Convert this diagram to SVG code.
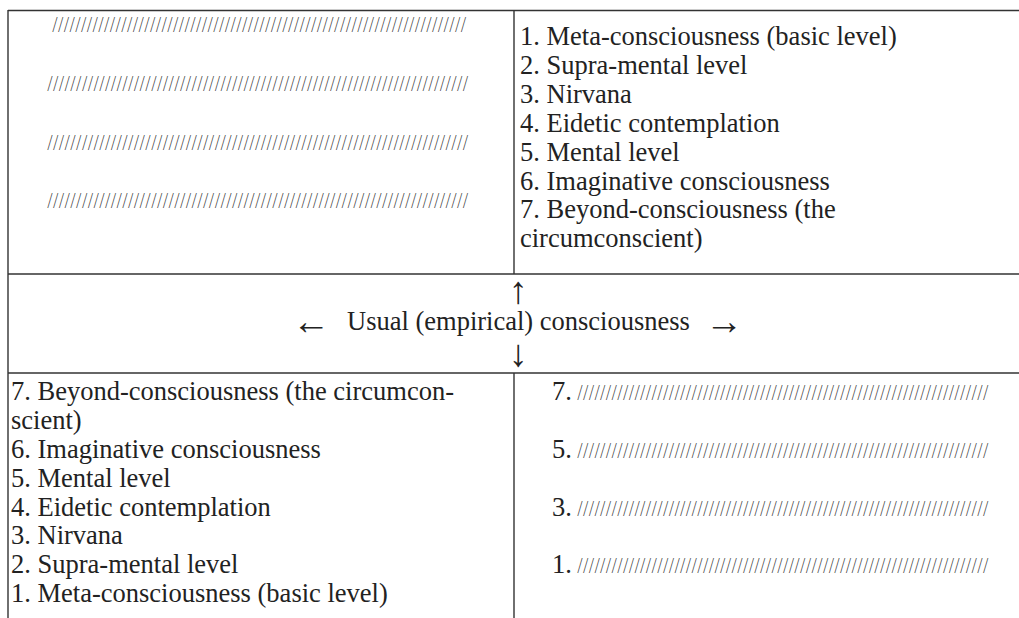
<svg xmlns="http://www.w3.org/2000/svg" width="1019" height="618" viewBox="0 0 1019 618">
<style>
.t{font-family:"Liberation Serif","Times New Roman",serif;font-size:26.5px;fill:#222}
.s{font-family:"Liberation Serif","Times New Roman",serif;font-style:italic;font-size:23px;fill:#333}
.a{font-family:"Liberation Serif","DejaVu Serif",serif;font-size:38px;fill:#222}
.ln{stroke:#333;stroke-width:1.4;fill:none}
</style>
<rect width="1019" height="618" fill="#fff"/>
<g id="grid">
<line class="ln" x1="8" y1="10.5" x2="1019" y2="10.5"/>
<line class="ln" x1="8" y1="274" x2="1019" y2="274"/>
<line class="ln" x1="8" y1="373" x2="1019" y2="373"/>
<line class="ln" x1="8" y1="10" x2="8" y2="618"/>
<line class="ln" x1="514" y1="10" x2="514" y2="274"/>
<line class="ln" x1="514" y1="373" x2="514" y2="618"/>
</g>
<g id="top-left">
<text class="s" transform="translate(53,32) scale(0.55,1)" x="0" y="0" textLength="749" lengthAdjust="spacing">////////////////////////////////////////////////////////////////////////</text>
<text class="s" transform="translate(48,91) scale(0.55,1)" x="0" y="0" textLength="762" lengthAdjust="spacing">/////////////////////////////////////////////////////////////////////////</text>
<text class="s" transform="translate(48,150) scale(0.55,1)" x="0" y="0" textLength="762" lengthAdjust="spacing">/////////////////////////////////////////////////////////////////////////</text>
<text class="s" transform="translate(48,208) scale(0.55,1)" x="0" y="0" textLength="762" lengthAdjust="spacing">/////////////////////////////////////////////////////////////////////////</text>
</g>
<g id="top-right">
<text class="t" x="520" y="45">1. Meta-consciousness (basic level)</text>
<text class="t" x="520" y="73.9">2. Supra-mental level</text>
<text class="t" x="520" y="102.8">3. Nirvana</text>
<text class="t" x="520" y="131.7">4. Eidetic contemplation</text>
<text class="t" x="520" y="160.6">5. Mental level</text>
<text class="t" x="520" y="189.5">6. Imaginative consciousness</text>
<text class="t" x="520" y="218.4">7. Beyond-consciousness (the</text>
<text class="t" x="520" y="247.3">circumconscient)</text>
</g>
<g id="middle">
<text class="a" x="518" y="303" text-anchor="middle">↑</text>
<text class="a" x="311" y="334" text-anchor="middle">←</text>
<text class="t" x="347" y="330">Usual (empirical) consciousness</text>
<text class="a" x="724" y="334" text-anchor="middle">→</text>
<text class="a" x="518" y="366" text-anchor="middle">↓</text>
</g>
<g id="bottom-left">
<text class="t" x="11" y="400">7. Beyond-consciousness (the circumcon-</text>
<text class="t" x="11" y="428.9">scient)</text>
<text class="t" x="11" y="457.7">6. Imaginative consciousness</text>
<text class="t" x="11" y="486.6">5. Mental level</text>
<text class="t" x="11" y="515.5">4. Eidetic contemplation</text>
<text class="t" x="11" y="544.4">3. Nirvana</text>
<text class="t" x="11" y="573.3">2. Supra-mental level</text>
<text class="t" x="11" y="602.2">1. Meta-consciousness (basic level)</text>
</g>
<g id="bottom-right">
<text class="t" x="552" y="400">7.</text>
<text class="s" transform="translate(578,400) scale(0.55,1)" x="0" y="0" textLength="744" lengthAdjust="spacing">////////////////////////////////////////////////////////////////////////</text>
<text class="t" x="552" y="457.8">5.</text>
<text class="s" transform="translate(578,457.8) scale(0.55,1)" x="0" y="0" textLength="744" lengthAdjust="spacing">////////////////////////////////////////////////////////////////////////</text>
<text class="t" x="552" y="515.6">3.</text>
<text class="s" transform="translate(578,515.6) scale(0.55,1)" x="0" y="0" textLength="744" lengthAdjust="spacing">////////////////////////////////////////////////////////////////////////</text>
<text class="t" x="552" y="573.4">1.</text>
<text class="s" transform="translate(578,573.4) scale(0.55,1)" x="0" y="0" textLength="744" lengthAdjust="spacing">////////////////////////////////////////////////////////////////////////</text>
</g>
</svg>
